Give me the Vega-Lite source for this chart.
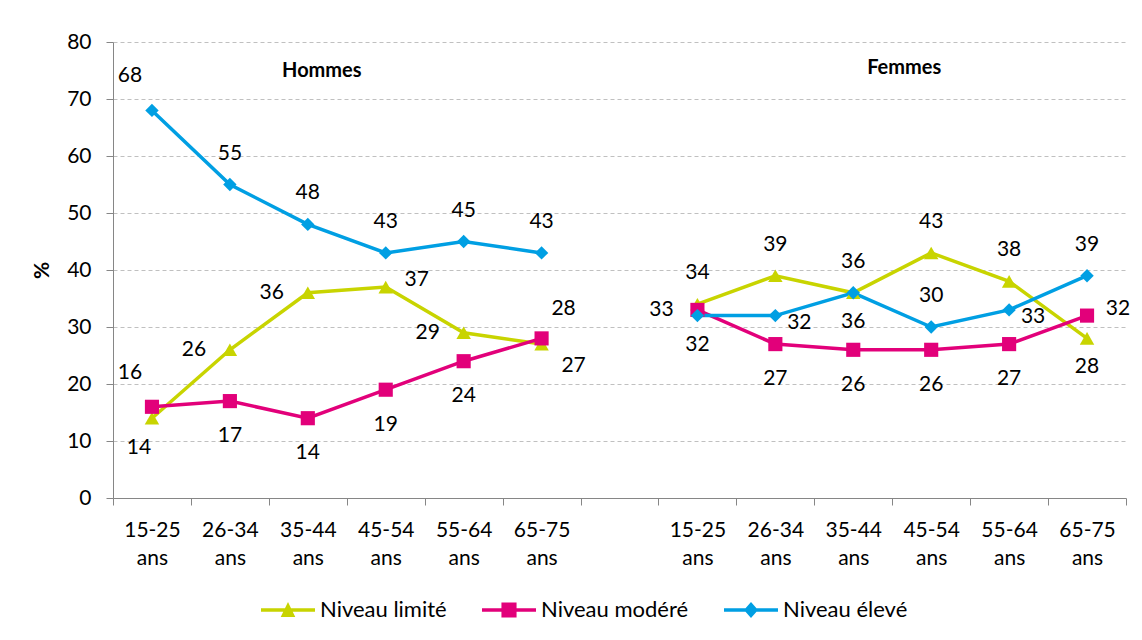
{
  "$schema": "https://vega.github.io/schema/vega-lite/v6.json",
  "width": 1013,
  "height": 456,
  "autosize": "none",
  "padding": {"left": 113, "top": 42, "right": 16, "bottom": 142},
  "background": "white",
  "config": {"view": {"stroke": null}, "font": "Lato"},
  "data": {"values": [
    {"sexe": "Hommes", "age": "15-25 ans", "niveau": "Niveau limité", "pct": 14},
    {"sexe": "Hommes", "age": "26-34 ans", "niveau": "Niveau limité", "pct": 26},
    {"sexe": "Hommes", "age": "35-44 ans", "niveau": "Niveau limité", "pct": 36},
    {"sexe": "Hommes", "age": "45-54 ans", "niveau": "Niveau limité", "pct": 37},
    {"sexe": "Hommes", "age": "55-64 ans", "niveau": "Niveau limité", "pct": 29},
    {"sexe": "Hommes", "age": "65-75 ans", "niveau": "Niveau limité", "pct": 27},
    {"sexe": "Hommes", "age": "15-25 ans", "niveau": "Niveau modéré", "pct": 16},
    {"sexe": "Hommes", "age": "26-34 ans", "niveau": "Niveau modéré", "pct": 17},
    {"sexe": "Hommes", "age": "35-44 ans", "niveau": "Niveau modéré", "pct": 14},
    {"sexe": "Hommes", "age": "45-54 ans", "niveau": "Niveau modéré", "pct": 19},
    {"sexe": "Hommes", "age": "55-64 ans", "niveau": "Niveau modéré", "pct": 24},
    {"sexe": "Hommes", "age": "65-75 ans", "niveau": "Niveau modéré", "pct": 28},
    {"sexe": "Hommes", "age": "15-25 ans", "niveau": "Niveau élevé", "pct": 68},
    {"sexe": "Hommes", "age": "26-34 ans", "niveau": "Niveau élevé", "pct": 55},
    {"sexe": "Hommes", "age": "35-44 ans", "niveau": "Niveau élevé", "pct": 48},
    {"sexe": "Hommes", "age": "45-54 ans", "niveau": "Niveau élevé", "pct": 43},
    {"sexe": "Hommes", "age": "55-64 ans", "niveau": "Niveau élevé", "pct": 45},
    {"sexe": "Hommes", "age": "65-75 ans", "niveau": "Niveau élevé", "pct": 43},
    {"sexe": "Femmes", "age": "15-25 ans", "niveau": "Niveau limité", "pct": 34},
    {"sexe": "Femmes", "age": "26-34 ans", "niveau": "Niveau limité", "pct": 39},
    {"sexe": "Femmes", "age": "35-44 ans", "niveau": "Niveau limité", "pct": 36},
    {"sexe": "Femmes", "age": "45-54 ans", "niveau": "Niveau limité", "pct": 43},
    {"sexe": "Femmes", "age": "55-64 ans", "niveau": "Niveau limité", "pct": 38},
    {"sexe": "Femmes", "age": "65-75 ans", "niveau": "Niveau limité", "pct": 28},
    {"sexe": "Femmes", "age": "15-25 ans", "niveau": "Niveau modéré", "pct": 33},
    {"sexe": "Femmes", "age": "26-34 ans", "niveau": "Niveau modéré", "pct": 27},
    {"sexe": "Femmes", "age": "35-44 ans", "niveau": "Niveau modéré", "pct": 26},
    {"sexe": "Femmes", "age": "45-54 ans", "niveau": "Niveau modéré", "pct": 26},
    {"sexe": "Femmes", "age": "55-64 ans", "niveau": "Niveau modéré", "pct": 27},
    {"sexe": "Femmes", "age": "65-75 ans", "niveau": "Niveau modéré", "pct": 32},
    {"sexe": "Femmes", "age": "15-25 ans", "niveau": "Niveau élevé", "pct": 32},
    {"sexe": "Femmes", "age": "26-34 ans", "niveau": "Niveau élevé", "pct": 32},
    {"sexe": "Femmes", "age": "35-44 ans", "niveau": "Niveau élevé", "pct": 36},
    {"sexe": "Femmes", "age": "45-54 ans", "niveau": "Niveau élevé", "pct": 30},
    {"sexe": "Femmes", "age": "55-64 ans", "niveau": "Niveau élevé", "pct": 33},
    {"sexe": "Femmes", "age": "65-75 ans", "niveau": "Niveau élevé", "pct": 39}
  ]},
  "transform": [
    {"calculate": "datum.sexe + ' ' + datum.age", "as": "cat"},
    {"calculate": "substring(datum.sexe,0,1) + substring(datum.age,0,2) + substring(datum.niveau,7,8)", "as": "k"}
  ],
  "encoding": {
    "x": {
      "field": "cat", "type": "nominal",
      "scale": {
        "domain": ["Hommes 15-25 ans", "Hommes 26-34 ans", "Hommes 35-44 ans", "Hommes 45-54 ans", "Hommes 55-64 ans", "Hommes 65-75 ans", "gap", "Femmes 15-25 ans", "Femmes 26-34 ans", "Femmes 35-44 ans", "Femmes 45-54 ans", "Femmes 55-64 ans", "Femmes 65-75 ans"],
        "paddingInner": 0, "paddingOuter": 0
      },
      "axis": {
        "title": null, "labelAngle": 0, "tickBand": "extent",
        "labelExpr": "(!isString(datum.value) || datum.value == 'gap') ? '' : split(replace(replace(datum.value, 'Hommes ', ''), 'Femmes ', ''), ' ')",
        "labelFont": "Lato", "labelFontSize": 21, "labelColor": "#000", "labelLineHeight": 28,
        "labelPadding": 14, "tickSize": 7, "tickColor": "#868686", "domainColor": "#868686",
        "grid": false, "labelOverlap": false
      }
    },
    "y": {
      "field": "pct", "type": "quantitative",
      "scale": {"domain": [0, 80], "nice": false},
      "axis": {
        "title": "%", "titleFont": "Lato", "titleFontSize": 21, "titleFontWeight": "bold", "titleColor": "#000",
        "titlePadding": 14,
        "values": [0, 10, 20, 30, 40, 50, 60, 70, 80],
        "labelFont": "Lato", "labelFontSize": 21, "labelColor": "#000", "labelPadding": 15,
        "tickSize": 7, "tickColor": "#868686", "domainColor": "#868686",
        "grid": true, "gridColor": "#C0C0C0", "gridDash": [4, 3], "gridWidth": 1
      }
    },
    "color": {
      "field": "niveau", "type": "nominal",
      "scale": {"domain": ["Niveau limité", "Niveau modéré", "Niveau élevé"], "range": ["#C8D400", "#E2007A", "#009FE3"]},
      "legend": {
        "orient": "none", "legendX": 148, "legendY": 541, "direction": "horizontal", "title": null,
        "symbolSize": 2916, "labelFont": "Lato", "labelFontSize": 22, "labelColor": "#000",
        "labelOffset": 5, "columnPadding": 35, "symbolStrokeWidth": 0
      }
    }
  },
  "layer": [
    {
      "transform": [{"filter": "false"}],
      "mark": {"type": "point", "filled": true, "opacity": 1},
      "encoding": {
        "shape": {"field": "niveau", "type": "nominal",
          "scale": {"domain": ["Niveau limité", "Niveau modéré", "Niveau élevé"],
            "range": [
              "M-1,-0.065 L1,-0.065 L1,0.065 L-1,0.065 Z M0,-0.3 L0.27,0.26 L-0.27,0.26 Z",
              "M-1,-0.065 L1,-0.065 L1,0.065 L-1,0.065 Z M-0.28,-0.28 L0.28,-0.28 L0.28,0.28 L-0.28,0.28 Z",
              "M-1,-0.065 L1,-0.065 L1,0.065 L-1,0.065 Z M0,-0.3 L0.26,0 L0,0.3 L-0.26,0 Z"
            ]},
          "legend": {
            "orient": "none", "legendX": 148, "legendY": 541, "direction": "horizontal", "title": null,
            "symbolSize": 2916, "labelFont": "Lato", "labelFontSize": 22, "labelColor": "#000",
            "labelOffset": 5, "columnPadding": 35, "symbolStrokeWidth": 0
          }
        }
      }
    },
    {
      "mark": {"type": "line", "strokeWidth": 3.5},
      "encoding": {"detail": {"field": "sexe"}}
    },
    {
      "transform": [{"filter": "datum.niveau == 'Niveau limité'"}],
      "mark": {"type": "point", "filled": true, "opacity": 1, "size": 210, "shape": "triangle-up"}
    },
    {
      "transform": [{"filter": "datum.niveau == 'Niveau modéré'"}],
      "mark": {"type": "point", "filled": true, "opacity": 1, "size": 200, "shape": "square"}
    },
    {
      "transform": [{"filter": "datum.niveau == 'Niveau élevé'"}],
      "mark": {"type": "point", "filled": true, "opacity": 1, "size": 180, "shape": "diamond"}
    },
    {
      "transform": [{"filter": "indexof(['H26é','H35é','H45é','H55é','H65é','F15l','F26l','F45l','F55l','F35é','F45é','F65é'], datum.k) >= 0"}],
      "mark": {"type": "text", "dy": -31, "fontSize": 21, "font": "Lato"},
      "encoding": {"text": {"field": "pct"}, "color": {"value": "#000"}}
    },
    {
      "transform": [{"filter": "indexof(['H26m','H35m','H45m','H55m','F26m','F35m','F45m','F55m'], datum.k) >= 0"}],
      "mark": {"type": "text", "dy": 35, "fontSize": 21, "font": "Lato"},
      "encoding": {"text": {"field": "pct"}, "color": {"value": "#000"}}
    },
    {
      "transform": [{"filter": "indexof(['F35l','F15é','F65l'], datum.k) >= 0"}],
      "mark": {"type": "text", "dy": 29, "fontSize": 21, "font": "Lato"},
      "encoding": {"text": {"field": "pct"}, "color": {"value": "#000"}}
    },
    {
      "transform": [{"filter": "indexof(['H26l','H35l','H55l','F15m'], datum.k) >= 0"}],
      "mark": {"type": "text", "dx": -36, "dy": 0, "fontSize": 21, "font": "Lato"},
      "encoding": {"text": {"field": "pct"}, "color": {"value": "#000"}}
    },
    {
      "transform": [{"filter": "indexof(['H45l','F65m'], datum.k) >= 0"}],
      "mark": {"type": "text", "dx": 31, "dy": -7, "fontSize": 21, "font": "Lato"},
      "encoding": {"text": {"field": "pct"}, "color": {"value": "#000"}}
    },
    {
      "transform": [{"filter": "indexof(['H15é','H15m'], datum.k) >= 0"}],
      "mark": {"type": "text", "dx": -22, "dy": -34, "fontSize": 21, "font": "Lato"},
      "encoding": {"text": {"field": "pct"}, "color": {"value": "#000"}}
    },
    {
      "transform": [{"filter": "datum.k == 'H15l'"}],
      "mark": {"type": "text", "dx": -13, "dy": 30, "fontSize": 21, "font": "Lato"},
      "encoding": {"text": {"field": "pct"}, "color": {"value": "#000"}}
    },
    {
      "transform": [{"filter": "datum.k == 'H65l'"}],
      "mark": {"type": "text", "dx": 32, "dy": 22, "fontSize": 21, "font": "Lato"},
      "encoding": {"text": {"field": "pct"}, "color": {"value": "#000"}}
    },
    {
      "transform": [{"filter": "indexof(['F26é','F55é'], datum.k) >= 0"}],
      "mark": {"type": "text", "dx": 24, "dy": 7, "fontSize": 21, "font": "Lato"},
      "encoding": {"text": {"field": "pct"}, "color": {"value": "#000"}}
    },
    {
      "transform": [{"filter": "datum.k == 'H65m'"}],
      "mark": {"type": "text", "dx": 22, "dy": -29, "fontSize": 21, "font": "Lato"},
      "encoding": {"text": {"field": "pct"}, "color": {"value": "#000"}}
    },
    {
      "transform": [{"filter": "datum.k == 'H15l'"}],
      "mark": {"type": "text", "dx": 14, "fontSize": 20, "font": "Lato", "fontWeight": "bold"},
      "encoding": {"x": {"datum": "Hommes 35-44 ans", "type": "nominal"}, "y": {"datum": 75}, "text": {"value": "Hommes"}, "color": {"value": "#000"}}
    },
    {
      "transform": [{"filter": "datum.k == 'F15l'"}],
      "mark": {"type": "text", "dx": -27, "fontSize": 20, "font": "Lato", "fontWeight": "bold"},
      "encoding": {"x": {"datum": "Femmes 45-54 ans", "type": "nominal"}, "y": {"datum": 75.5}, "text": {"value": "Femmes"}, "color": {"value": "#000"}}
    }
  ]
}
